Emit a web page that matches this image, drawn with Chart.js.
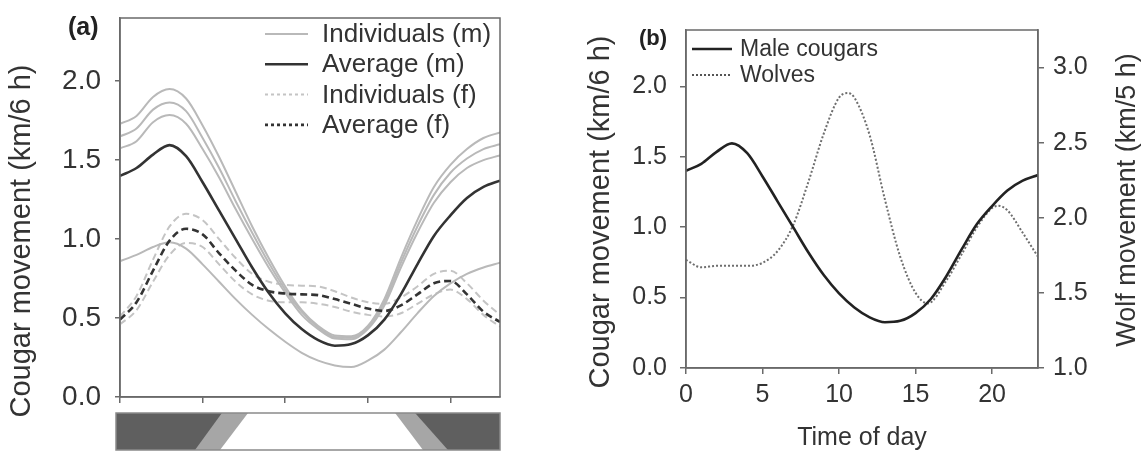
<!DOCTYPE html>
<html>
<head>
<meta charset="utf-8">
<script src="https://cdn.jsdelivr.net/npm/chart.js@4.4.0/dist/chart.umd.min.js"></script>
<style>
html,body{margin:0;padding:0;background:#fff;width:1142px;height:453px;overflow:hidden;}
canvas{position:absolute;display:block;}
</style>
</head>
<body>
<canvas id="ca" width="520" height="453" style="left:0;top:0;"></canvas>
<canvas id="cbar" width="420" height="48" style="left:100px;top:405px;"></canvas>
<canvas id="cb" width="567" height="453" style="left:575px;top:0;"></canvas>
<script>
// ---------- DATA ----------
const hours = [0,1,2,3,4,5,6,7,8,9,10,11,12,13,14,15,16,17,18,19,20,21,22,23];

const maleAvg   = [1.40,1.45,1.535,1.595,1.525,1.36,1.18,1.00,0.82,0.66,0.53,0.43,0.36,0.325,0.335,0.39,0.49,0.65,0.84,1.02,1.15,1.26,1.33,1.37];
const maleInd1  = [1.73,1.78,1.90,1.95,1.89,1.72,1.52,1.30,1.08,0.88,0.70,0.55,0.45,0.39,0.385,0.45,0.62,0.88,1.12,1.33,1.47,1.57,1.64,1.675];
const maleInd2  = [1.65,1.70,1.82,1.865,1.81,1.64,1.45,1.24,1.04,0.85,0.68,0.54,0.44,0.38,0.375,0.44,0.60,0.85,1.08,1.28,1.42,1.51,1.57,1.60];
const maleInd3  = [1.575,1.62,1.74,1.785,1.73,1.57,1.39,1.19,1.00,0.82,0.66,0.52,0.43,0.37,0.365,0.43,0.58,0.82,1.04,1.23,1.36,1.45,1.50,1.53];
const maleInd4  = [0.86,0.90,0.95,0.98,0.94,0.84,0.73,0.62,0.52,0.43,0.35,0.28,0.23,0.20,0.19,0.23,0.30,0.41,0.53,0.64,0.72,0.78,0.82,0.85];

const femaleAvg  = [0.49,0.60,0.80,0.99,1.065,1.03,0.91,0.80,0.71,0.67,0.655,0.65,0.645,0.62,0.59,0.56,0.545,0.58,0.65,0.72,0.735,0.65,0.54,0.475];
const femaleInd1 = [0.51,0.64,0.87,1.08,1.16,1.12,1.00,0.88,0.78,0.73,0.71,0.705,0.70,0.67,0.63,0.60,0.59,0.63,0.70,0.78,0.80,0.72,0.61,0.52];
const femaleInd2 = [0.46,0.55,0.73,0.90,0.975,0.95,0.84,0.73,0.65,0.61,0.60,0.60,0.59,0.57,0.54,0.52,0.51,0.53,0.59,0.65,0.68,0.62,0.52,0.445];

const wolfHours = [0,1,2,3,4,5,6,7,8,9,10,10.6,11,12,13,14,15,15.8,17,18,19,20,20.4,21,22,23];
const wolves    = [1.72,1.67,1.68,1.68,1.68,1.70,1.78,1.95,2.24,2.56,2.80,2.83,2.80,2.55,2.12,1.74,1.50,1.43,1.58,1.755,1.935,2.065,2.08,2.05,1.90,1.74];

// day / twilight / night bar (time of day, bottom edge -> top edge)
const nightX    = [-0.24, 23];
const nightY    = [1, 1];
const twilightX = [4.54, 6.17, 17.86, 19.85];
const twilightY = [0, 1, 1, 0];
const daylightX = [6.05, 7.75, 16.65, 18.34];
const daylightY = [0, 1, 1, 0];

// tick labels
const cougarTicks = [0, 0.5, 1.0, 1.5, 2.0];
const wolfTicks   = [1.0, 1.5, 2.0, 2.5, 3.0];
const timeTicks   = [0, 5, 10, 15, 20];

const legendLabelsA = ['Individuals (m)', 'Average (m)', 'Individuals (f)', 'Average (f)'];
const legendLabelsB = ['Male cougars', 'Wolves'];
const titleCougar = 'Cougar movement (km/6 h)';
const titleWolf   = 'Wolf movement (km/5 h)';
const titleTime   = 'Time of day';

// ---------- HELPERS ----------
const FONT = '"Liberation Sans", Arial, Helvetica, sans-serif';
const pts = (xs, ys) => xs.map((x, i) => ({x: x, y: ys[i]}));
const AXIS = '#6a6a6a';
const LIGHT = '#b9b9b9';
const DARK = '#333333';

function lineDs(values, color, width, dash, axis) {
  return {
    data: pts(hours, values),
    borderColor: color, borderWidth: width, borderDash: dash || [],
    pointRadius: 0, fill: false, cubicInterpolationMode: 'monotone',
    yAxisID: axis || 'y'
  };
}
const setTicks = arr => (s => { s.ticks = arr.map(v => ({value: v})); });
const fixSize = (w, h) => (s => {
  if (w !== null) s.width = w;
  if (h !== null) s.height = h;
  s.paddingTop = 0; s.paddingBottom = 0; s.paddingLeft = 0; s.paddingRight = 0;
});

const framePlugin = {
  id: 'frame',
  afterDraw(chart, args, opts) {
    const a = chart.chartArea, ctx = chart.ctx;
    ctx.save();
    ctx.strokeStyle = opts.color || AXIS;
    ctx.lineWidth = opts.width || 1.5;
    ctx.strokeRect(a.left, a.top, a.right - a.left, a.bottom - a.top);
    ctx.restore();
  }
};

function vText(ctx, text, x, y, size) {
  ctx.save();
  ctx.translate(x, y);
  ctx.rotate(-Math.PI / 2);
  ctx.font = size + 'px ' + FONT;
  ctx.fillStyle = '#333';
  ctx.textAlign = 'center';
  ctx.textBaseline = 'middle';
  ctx.fillText(text, 0, 0);
  ctx.restore();
}

const legendStylesA = [
  {color: LIGHT, width: 2, dash: []},
  {color: DARK, width: 2.6, dash: []},
  {color: '#c4c4c4', width: 2, dash: [3, 3]},
  {color: DARK, width: 2.6, dash: [3, 3]}
];

const annotA = {
  id: 'annotA',
  afterDraw(chart) {
    const ctx = chart.ctx;
    ctx.save();
    ctx.fillStyle = '#222';
    ctx.font = 'bold 25px ' + FONT;
    ctx.textAlign = 'left';
    ctx.textBaseline = 'middle';
    ctx.fillText('(a)', 68, 28);
    vText(ctx, titleCougar, 22, 241, 29);
    legendLabelsA.forEach((lab, i) => {
      const y = 34 + i * 30.3;
      const st = legendStylesA[i];
      ctx.strokeStyle = st.color; ctx.lineWidth = st.width; ctx.setLineDash(st.dash);
      ctx.beginPath(); ctx.moveTo(265, y); ctx.lineTo(308, y); ctx.stroke();
      ctx.setLineDash([]);
      ctx.fillStyle = '#333';
      ctx.font = '26px ' + FONT;
      ctx.textAlign = 'left';
      ctx.textBaseline = 'middle';
      ctx.fillText(lab, 322, y + 1);
    });
    ctx.restore();
  }
};

const legendStylesB = [
  {color: '#222', width: 2.6, dash: []},
  {color: '#555', width: 2, dash: [2, 2]}
];
const annotB = {
  id: 'annotB',
  afterDraw(chart) {
    const ctx = chart.ctx;
    ctx.save();
    ctx.fillStyle = '#222';
    ctx.font = 'bold 22px ' + FONT;
    ctx.textAlign = 'left';
    ctx.textBaseline = 'middle';
    ctx.fillText('(b)', 64, 39);
    vText(ctx, titleCougar, 26, 212, 29);
    vText(ctx, titleWolf, 553, 200, 27);
    legendLabelsB.forEach((lab, i) => {
      const y = 49 + i * 26;
      const st = legendStylesB[i];
      ctx.strokeStyle = st.color; ctx.lineWidth = st.width; ctx.setLineDash(st.dash);
      ctx.beginPath(); ctx.moveTo(117, y); ctx.lineTo(157, y); ctx.stroke();
      ctx.setLineDash([]);
      ctx.fillStyle = '#333';
      ctx.font = '23px ' + FONT;
      ctx.textAlign = 'left';
      ctx.textBaseline = 'middle';
      ctx.fillText(lab, 165, y + 1);
    });
    ctx.restore();
  }
};

const gridOut = len => ({display: true, drawOnChartArea: false, drawTicks: true, tickLength: len, color: AXIS, lineWidth: 1.5});
const border = {display: true, color: AXIS, width: 1.5};
const common = {
  responsive: false, animation: false, devicePixelRatio: 1,
  events: [],
  plugins: {legend: {display: false}, tooltip: {enabled: false}, frame: {color: AXIS, width: 1.5}},
  elements: {point: {radius: 0}}
};

// ---------- CHART A ----------
new Chart(document.getElementById('ca'), {
  type: 'line',
  data: {datasets: [
    lineDs(maleAvg, DARK, 2.6, []),
    lineDs(femaleAvg, DARK, 2.6, [7, 4]),
    lineDs(maleInd1, LIGHT, 2, []),
    lineDs(maleInd2, LIGHT, 2, []),
    lineDs(maleInd3, LIGHT, 2, []),
    lineDs(maleInd4, LIGHT, 2, []),
    lineDs(femaleInd1, '#c4c4c4', 2, [7, 4]),
    lineDs(femaleInd2, '#c4c4c4', 2, [7, 4])
  ]},
  options: Object.assign({}, common, {
    layout: {padding: {left: 0, top: 18, right: 20, bottom: 43}},
    scales: {
      x: {type: 'linear', min: 0, max: 23, afterBuildTicks: setTicks(timeTicks),
          ticks: {display: false}, grid: gridOut(6), border: border,
          afterFit: fixSize(null, 13)},
      y: {type: 'linear', min: 0, max: 2.4, afterBuildTicks: setTicks(cougarTicks),
          ticks: {color: '#333', padding: 14, font: {family: FONT, size: 28}, callback: v => v.toFixed(1)},
          grid: gridOut(5), border: border,
          afterFit: fixSize(120, null)}
    }
  }),
  plugins: [framePlugin, annotA]
});

// ---------- DAY/NIGHT BAR ----------
function polyDs(xs, ys, color) {
  return {data: pts(xs, ys), fill: 'origin', backgroundColor: color, borderColor: color,
          borderWidth: 0, pointRadius: 0, tension: 0};
}
new Chart(document.getElementById('cbar'), {
  type: 'line',
  data: {datasets: [
    polyDs(daylightX, daylightY, '#ffffff'),
    polyDs(twilightX, twilightY, '#a6a6a6'),
    polyDs(nightX, nightY, '#5f5f5f')
  ]},
  options: Object.assign({}, common, {
    plugins: {legend: {display: false}, tooltip: {enabled: false}, frame: {color: '#8a8a8a', width: 1.5}},
    layout: {padding: {left: 16, right: 20, top: 8, bottom: 3}},
    scales: {
      x: {type: 'linear', display: false, min: -0.24, max: 23},
      y: {type: 'linear', display: false, min: 0, max: 1}
    }
  }),
  plugins: [framePlugin]
});

// ---------- CHART B ----------
const maleB = lineDs(maleAvg, '#222', 2.6, [], 'y');
const wolfB = {
  data: pts(wolfHours, wolves), borderColor: '#6e6e6e', borderWidth: 2, borderDash: [2, 2],
  pointRadius: 0, fill: false, cubicInterpolationMode: 'monotone', yAxisID: 'y2'
};
new Chart(document.getElementById('cb'), {
  type: 'line',
  data: {datasets: [maleB, wolfB]},
  options: Object.assign({}, common, {
    layout: {padding: {left: 0, top: 30, right: 0, bottom: 0}},
    scales: {
      x: {type: 'linear', min: 0, max: 23, afterBuildTicks: setTicks(timeTicks),
          ticks: {color: '#333', padding: 6, font: {family: FONT, size: 25}, maxRotation: 0},
          grid: gridOut(6), border: border,
          title: {display: true, text: titleTime, color: '#333', font: {family: FONT, size: 25}, padding: {top: 0, bottom: 0}},
          afterFit: fixSize(null, 85)},
      y: {type: 'linear', position: 'left', min: 0, max: 2.4, afterBuildTicks: setTicks(cougarTicks),
          ticks: {color: '#333', padding: 13, font: {family: FONT, size: 25}, callback: v => v.toFixed(1)},
          grid: gridOut(6), border: border,
          afterFit: fixSize(111, null)},
      y2: {type: 'linear', position: 'right', min: 1, max: 3.25, afterBuildTicks: setTicks(wolfTicks),
          ticks: {color: '#333', padding: 9, font: {family: FONT, size: 25}, callback: v => v.toFixed(1)},
          grid: gridOut(6), border: border,
          afterFit: fixSize(104, null)}
    }
  }),
  plugins: [framePlugin, annotB]
});
</script>
</body>
</html>
